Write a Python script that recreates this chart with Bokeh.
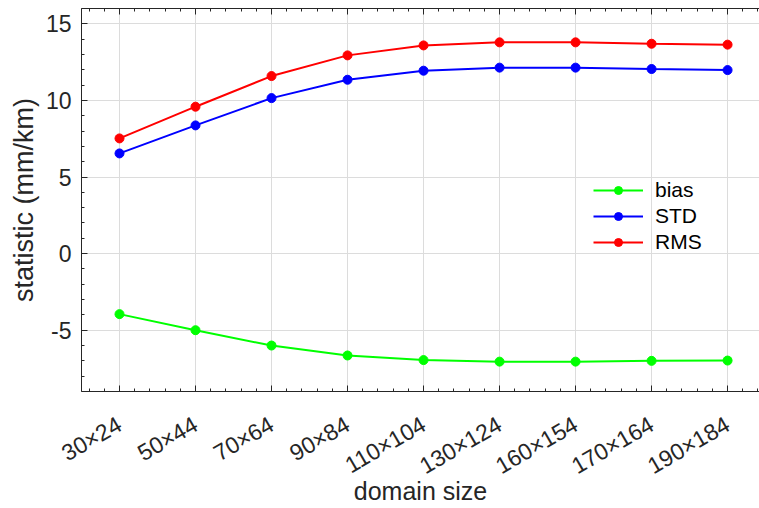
import numpy as np
from bokeh.plotting import figure
from bokeh.models import Range1d, FixedTicker, LinearAxis, Legend, LegendItem
from bokeh.embed import file_html
from bokeh.resources import INLINE

categories = ["30×24", "50×44", "70×64", "90×84", "110×104", "130×124", "160×154", "170×164", "190×184"]
bias = [-3.95, -5.0, -6.0, -6.65, -6.95, -7.05, -7.05, -7.0, -6.98]
std = [6.54, 8.37, 10.15, 11.35, 11.94, 12.14, 12.14, 12.05, 11.98]
rms = [7.52, 9.59, 11.59, 12.94, 13.59, 13.79, 13.79, 13.70, 13.64]
y_ticks = [-5, 0, 5, 10, 15]
y_tick_labels = ["-5", "0", "5", "10", "15"]

FONT = "Liberation Sans"
AX = "#262626"

x = list(range(len(categories)))
minor_x = list(np.round(np.arange(-0.4, 8.42, 0.2), 3))

p = figure(width=759, height=508, output_backend="svg", toolbar_location=None,
           x_range=Range1d(-0.5, 8.42), y_range=Range1d(-9, 16),
           min_border_left=81, min_border_top=8, min_border_right=0, min_border_bottom=117)
p.outline_line_color = None
p.background_fill_color = "white"

for ax in (p.xaxis[0], p.yaxis[0]):
    ax.axis_line_color = AX
    ax.major_tick_line_color = AX
    ax.minor_tick_line_color = AX
    ax.major_tick_in = 6
    ax.major_tick_out = 0
    ax.minor_tick_in = 3
    ax.minor_tick_out = 0
    ax.major_label_text_color = AX
    ax.major_label_text_font = FONT
    ax.major_label_text_font_size = "23px"
    ax.axis_label_text_font = FONT
    ax.axis_label_text_font_style = "normal"
    ax.axis_label_text_color = AX

p.xaxis.ticker = FixedTicker(ticks=x, minor_ticks=minor_x)
p.xaxis.major_label_overrides = {i: c for i, c in enumerate(categories)}
p.xaxis.major_label_orientation = np.pi / 6
p.xaxis.major_label_standoff = 31
p.xaxis.axis_label = "domain size"
p.xaxis.axis_label_text_font_size = "25px"
p.xaxis.axis_label_standoff = -16

p.yaxis.ticker = FixedTicker(ticks=y_ticks, minor_ticks=list(range(-9, 17)))
p.yaxis.major_label_overrides = {t: s for t, s in zip(y_ticks, y_tick_labels)}
p.yaxis.major_label_standoff = 10
p.yaxis.axis_label = "statistic (mm/km)"
p.yaxis.axis_label_text_font_size = "27px"
p.yaxis.axis_label_standoff = 4

top = LinearAxis(ticker=FixedTicker(ticks=x, minor_ticks=minor_x))
top.axis_line_color = AX
top.major_tick_line_color = AX
top.minor_tick_line_color = AX
top.major_tick_in = 6
top.major_tick_out = 0
top.minor_tick_in = 3
top.minor_tick_out = 0
top.major_label_overrides = {i: "" for i in x}
top.major_label_text_font_size = "1px"
top.major_label_text_alpha = 0
top.major_label_standoff = 0
p.add_layout(top, "above")

p.xgrid.ticker = FixedTicker(ticks=x)
p.ygrid.ticker = FixedTicker(ticks=y_ticks)
p.grid.grid_line_color = "#dcdcdc"
p.grid.grid_line_width = 1

items = []
for name, vals, col in (("bias", bias, "#00ff00"), ("STD", std, "#0000ff"), ("RMS", rms, "#ff0000")):
    l = p.line(x, vals, line_color=col, line_width=2)
    s = p.scatter(x, vals, size=9, fill_color=col, line_color=col)
    items.append(LegendItem(label=name, renderers=[l, s]))

legend = Legend(items=items, location=(512, 137))
legend.border_line_color = None
legend.background_fill_alpha = 0
legend.padding = 0
legend.margin = 0
legend.spacing = 2
legend.glyph_width = 50
legend.glyph_height = 20
legend.label_height = 20
legend.label_standoff = 12
legend.label_text_font = FONT
legend.label_text_font_size = "21px"
legend.label_text_color = "#000000"
p.add_layout(legend)

open("out.html", "w").write(file_html(p, INLINE))
